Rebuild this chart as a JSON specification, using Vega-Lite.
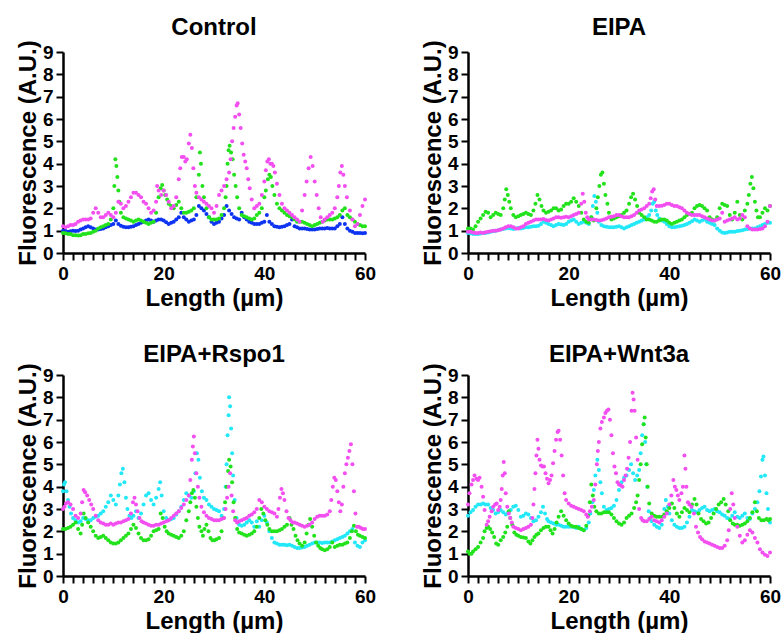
{
"$schema": "https://vega.github.io/schema/vega-lite/v6.json",
"background": "white",
"padding": {"left": 16, "top": 15, "right": 5, "bottom": 0},
"config": {
 "font": "Liberation Sans",
 "view": {"stroke": null},
 "axis": {"grid": false, "domainColor": "black", "domainWidth": 2.5, "tickColor": "black", "tickWidth": 2, "tickSize": 7, "labelFont": "Liberation Sans", "labelFontSize": 19, "labelFontWeight": "bold", "labelColor": "black", "labelPadding": 3, "labelFlush": false, "labelOverlap": false, "titleFont": "Liberation Sans", "titleFontSize": 24, "titleFontWeight": "bold", "titleColor": "black", "titlePadding": 2},
 "title": {"font": "Liberation Sans", "fontSize": 24, "fontWeight": "bold", "color": "black", "anchor": "middle", "frame": "group"},
 "point": {"filled": true, "size": 16, "opacity": 1}
},
"columns": 2,
"bounds": "flush",
"spacing": {"row": 122, "column": 103},
"resolve": {"scale": {"color": "independent"}},
"datasets": {
"control": [
{"s":"a","x":0,"y":1.0},{"s":"a","x":0.5,"y":0.98},{"s":"a","x":1,"y":0.95},{"s":"a","x":1.5,"y":0.97},{"s":"a","x":2,"y":1.0},{"s":"a","x":2.5,"y":0.98},{"s":"a","x":3,"y":1.0},{"s":"a","x":3.5,"y":1.05},{"s":"a","x":4,"y":1.1},{"s":"a","x":4.5,"y":1.15},{"s":"a","x":5,"y":1.2},{"s":"a","x":5.5,"y":1.15},{"s":"a","x":6,"y":1.1},{"s":"a","x":6.5,"y":1.05},{"s":"a","x":7,"y":1.05},{"s":"a","x":7.5,"y":1.08},{"s":"a","x":8,"y":1.1},{"s":"a","x":8.5,"y":1.15},{"s":"a","x":9,"y":1.2},{"s":"a","x":9.5,"y":1.25},{"s":"a","x":10,"y":1.3},{"s":"a","x":10.5,"y":1.45},{"s":"a","x":11,"y":1.3},{"s":"a","x":11.5,"y":1.22},{"s":"a","x":12,"y":1.18},{"s":"a","x":12.5,"y":1.15},{"s":"a","x":13,"y":1.15},{"s":"a","x":13.5,"y":1.18},{"s":"a","x":14,"y":1.2},{"s":"a","x":14.5,"y":1.25},{"s":"a","x":15,"y":1.3},{"s":"a","x":15.5,"y":1.35},{"s":"a","x":16,"y":1.4},{"s":"a","x":16.5,"y":1.45},{"s":"a","x":17,"y":1.5},{"s":"a","x":17.5,"y":1.45},{"s":"a","x":18,"y":1.4},{"s":"a","x":18.5,"y":1.45},{"s":"a","x":19,"y":1.5},{"s":"a","x":19.5,"y":1.5},{"s":"a","x":20,"y":1.45},{"s":"a","x":20.5,"y":1.38},{"s":"a","x":21,"y":1.3},{"s":"a","x":21.5,"y":1.35},{"s":"a","x":22,"y":1.4},{"s":"a","x":22.5,"y":1.5},{"s":"a","x":23,"y":1.6},{"s":"a","x":23.5,"y":1.8},{"s":"a","x":24,"y":1.6},{"s":"a","x":24.5,"y":1.5},{"s":"a","x":25,"y":1.4},{"s":"a","x":25.5,"y":1.45},{"s":"a","x":26,"y":1.5},{"s":"a","x":26.5,"y":1.7},{"s":"a","x":27,"y":2.1},{"s":"a","x":27.5,"y":2.0},{"s":"a","x":28,"y":1.9},{"s":"a","x":28.5,"y":1.75},{"s":"a","x":29,"y":1.6},{"s":"a","x":29.5,"y":1.4},{"s":"a","x":30,"y":1.3},{"s":"a","x":30.5,"y":1.35},{"s":"a","x":31,"y":1.4},{"s":"a","x":31.5,"y":1.55},{"s":"a","x":32,"y":1.7},{"s":"a","x":32.5,"y":2.1},{"s":"a","x":33,"y":1.9},{"s":"a","x":33.5,"y":1.75},{"s":"a","x":34,"y":1.6},{"s":"a","x":34.5,"y":1.55},{"s":"a","x":35,"y":1.5},{"s":"a","x":35.5,"y":1.8},{"s":"a","x":36,"y":1.6},{"s":"a","x":36.5,"y":1.5},{"s":"a","x":37,"y":1.4},{"s":"a","x":37.5,"y":1.35},{"s":"a","x":38,"y":1.3},{"s":"a","x":38.5,"y":1.3},{"s":"a","x":39,"y":1.3},{"s":"a","x":39.5,"y":1.35},{"s":"a","x":40,"y":1.4},{"s":"a","x":40.5,"y":1.7},{"s":"a","x":41,"y":1.4},{"s":"a","x":41.5,"y":1.3},{"s":"a","x":42,"y":1.2},{"s":"a","x":42.5,"y":1.18},{"s":"a","x":43,"y":1.15},{"s":"a","x":43.5,"y":1.18},{"s":"a","x":44,"y":1.2},{"s":"a","x":44.5,"y":1.25},{"s":"a","x":45,"y":1.3},{"s":"a","x":45.5,"y":1.5},{"s":"a","x":46,"y":1.2},{"s":"a","x":46.5,"y":1.15},{"s":"a","x":47,"y":1.1},{"s":"a","x":47.5,"y":1.1},{"s":"a","x":48,"y":1.1},{"s":"a","x":48.5,"y":1.08},{"s":"a","x":49,"y":1.05},{"s":"a","x":49.5,"y":1.05},{"s":"a","x":50,"y":1.05},{"s":"a","x":50.5,"y":1.08},{"s":"a","x":51,"y":1.1},{"s":"a","x":51.5,"y":1.1},{"s":"a","x":52,"y":1.1},{"s":"a","x":52.5,"y":1.12},{"s":"a","x":53,"y":1.1},{"s":"a","x":53.5,"y":1.1},{"s":"a","x":54,"y":1.1},{"s":"a","x":54.5,"y":1.2},{"s":"a","x":55,"y":1.3},{"s":"a","x":55.5,"y":1.6},{"s":"a","x":56,"y":1.3},{"s":"a","x":56.5,"y":1.1},{"s":"a","x":57,"y":1.0},{"s":"a","x":57.5,"y":0.95},{"s":"a","x":58,"y":0.9},{"s":"a","x":58.5,"y":0.9},{"s":"a","x":59,"y":0.9},{"s":"a","x":59.5,"y":0.88},{"s":"a","x":60,"y":0.9},
{"s":"b","x":0,"y":0.9},{"s":"b","x":0.5,"y":0.88},{"s":"b","x":1,"y":0.85},{"s":"b","x":1.5,"y":0.85},{"s":"b","x":2,"y":0.8},{"s":"b","x":2.5,"y":0.8},{"s":"b","x":3,"y":0.78},{"s":"b","x":3.5,"y":0.8},{"s":"b","x":4,"y":0.85},{"s":"b","x":4.5,"y":0.85},{"s":"b","x":5,"y":0.88},{"s":"b","x":5.5,"y":0.9},{"s":"b","x":6,"y":0.95},{"s":"b","x":6.5,"y":1.0},{"s":"b","x":7,"y":1.1},{"s":"b","x":7.5,"y":1.15},{"s":"b","x":8,"y":1.2},{"s":"b","x":8.5,"y":1.25},{"s":"b","x":9,"y":1.3},{"s":"b","x":9.5,"y":1.5},{"s":"b","x":10,"y":2.0},{"s":"b","x":10.2,"y":3.0},{"s":"b","x":10.4,"y":4.2},{"s":"b","x":10.6,"y":3.9},{"s":"b","x":10.8,"y":3.4},{"s":"b","x":11,"y":2.8},{"s":"b","x":11.2,"y":2.3},{"s":"b","x":11.5,"y":1.8},{"s":"b","x":12,"y":1.6},{"s":"b","x":12.5,"y":1.55},{"s":"b","x":13,"y":1.5},{"s":"b","x":13.5,"y":1.45},{"s":"b","x":14,"y":1.4},{"s":"b","x":14.5,"y":1.45},{"s":"b","x":15,"y":1.5},{"s":"b","x":15.5,"y":1.45},{"s":"b","x":16,"y":1.4},{"s":"b","x":16.5,"y":1.35},{"s":"b","x":17,"y":1.3},{"s":"b","x":17.5,"y":1.35},{"s":"b","x":18,"y":1.4},{"s":"b","x":18.5,"y":1.8},{"s":"b","x":19,"y":2.5},{"s":"b","x":19.4,"y":2.9},{"s":"b","x":19.7,"y":3.05},{"s":"b","x":20,"y":2.8},{"s":"b","x":20.3,"y":2.6},{"s":"b","x":20.7,"y":2.4},{"s":"b","x":21,"y":2.2},{"s":"b","x":21.5,"y":2.1},{"s":"b","x":22,"y":2.0},{"s":"b","x":22.5,"y":2.15},{"s":"b","x":23,"y":2.3},{"s":"b","x":23.5,"y":2.0},{"s":"b","x":24,"y":1.8},{"s":"b","x":24.5,"y":1.8},{"s":"b","x":25,"y":1.85},{"s":"b","x":25.5,"y":1.9},{"s":"b","x":26,"y":2.0},{"s":"b","x":26.5,"y":2.5},{"s":"b","x":27,"y":3.5},{"s":"b","x":27.2,"y":4.5},{"s":"b","x":27.4,"y":4.0},{"s":"b","x":27.7,"y":3.0},{"s":"b","x":28,"y":2.5},{"s":"b","x":28.5,"y":2.0},{"s":"b","x":29,"y":1.6},{"s":"b","x":29.5,"y":1.5},{"s":"b","x":30,"y":1.5},{"s":"b","x":30.5,"y":1.5},{"s":"b","x":31,"y":1.55},{"s":"b","x":31.5,"y":1.7},{"s":"b","x":32,"y":2.0},{"s":"b","x":32.3,"y":2.5},{"s":"b","x":32.5,"y":3.0},{"s":"b","x":32.7,"y":4.0},{"s":"b","x":32.9,"y":4.6},{"s":"b","x":33.1,"y":4.8},{"s":"b","x":33.4,"y":4.5},{"s":"b","x":33.7,"y":4.2},{"s":"b","x":34,"y":3.5},{"s":"b","x":34.3,"y":3.0},{"s":"b","x":34.6,"y":2.5},{"s":"b","x":35,"y":2.0},{"s":"b","x":35.5,"y":1.7},{"s":"b","x":36,"y":1.65},{"s":"b","x":36.5,"y":1.6},{"s":"b","x":37,"y":1.55},{"s":"b","x":37.5,"y":1.5},{"s":"b","x":38,"y":1.55},{"s":"b","x":38.5,"y":1.7},{"s":"b","x":39,"y":1.8},{"s":"b","x":39.5,"y":2.0},{"s":"b","x":40,"y":2.5},{"s":"b","x":40.3,"y":2.8},{"s":"b","x":40.7,"y":3.3},{"s":"b","x":41,"y":3.5},{"s":"b","x":41.3,"y":3.4},{"s":"b","x":41.6,"y":3.0},{"s":"b","x":42,"y":2.6},{"s":"b","x":42.5,"y":2.2},{"s":"b","x":43,"y":2.0},{"s":"b","x":43.5,"y":1.9},{"s":"b","x":44,"y":1.8},{"s":"b","x":44.5,"y":1.7},{"s":"b","x":45,"y":1.65},{"s":"b","x":45.5,"y":1.6},{"s":"b","x":46,"y":1.5},{"s":"b","x":46.5,"y":1.4},{"s":"b","x":47,"y":1.4},{"s":"b","x":47.5,"y":1.4},{"s":"b","x":48,"y":1.35},{"s":"b","x":48.5,"y":1.3},{"s":"b","x":49,"y":1.25},{"s":"b","x":49.5,"y":1.2},{"s":"b","x":50,"y":1.25},{"s":"b","x":50.5,"y":1.3},{"s":"b","x":51,"y":1.35},{"s":"b","x":51.5,"y":1.4},{"s":"b","x":52,"y":1.45},{"s":"b","x":52.5,"y":1.5},{"s":"b","x":53,"y":1.5},{"s":"b","x":53.5,"y":1.5},{"s":"b","x":54,"y":1.55},{"s":"b","x":54.5,"y":1.6},{"s":"b","x":55,"y":1.7},{"s":"b","x":55.5,"y":1.9},{"s":"b","x":56,"y":2.0},{"s":"b","x":56.5,"y":1.7},{"s":"b","x":57,"y":1.6},{"s":"b","x":57.5,"y":1.5},{"s":"b","x":58,"y":1.4},{"s":"b","x":58.5,"y":1.3},{"s":"b","x":59,"y":1.25},{"s":"b","x":59.5,"y":1.2},{"s":"b","x":60,"y":1.2},
{"s":"c","x":0,"y":1.2},{"s":"c","x":0.5,"y":1.15},{"s":"c","x":1,"y":1.2},{"s":"c","x":1.5,"y":1.25},{"s":"c","x":2,"y":1.25},{"s":"c","x":2.5,"y":1.3},{"s":"c","x":3,"y":1.4},{"s":"c","x":3.5,"y":1.45},{"s":"c","x":4,"y":1.5},{"s":"c","x":4.5,"y":1.5},{"s":"c","x":5,"y":1.5},{"s":"c","x":5.5,"y":1.55},{"s":"c","x":6,"y":1.8},{"s":"c","x":6.5,"y":2.0},{"s":"c","x":7,"y":1.8},{"s":"c","x":7.5,"y":1.6},{"s":"c","x":8,"y":1.6},{"s":"c","x":8.5,"y":1.7},{"s":"c","x":9,"y":1.8},{"s":"c","x":9.5,"y":1.7},{"s":"c","x":10,"y":1.6},{"s":"c","x":10.5,"y":1.8},{"s":"c","x":11,"y":2.3},{"s":"c","x":11.5,"y":2.2},{"s":"c","x":12,"y":2.0},{"s":"c","x":12.5,"y":2.1},{"s":"c","x":13,"y":2.3},{"s":"c","x":13.5,"y":2.5},{"s":"c","x":14,"y":2.7},{"s":"c","x":14.5,"y":2.7},{"s":"c","x":15,"y":2.6},{"s":"c","x":15.5,"y":2.5},{"s":"c","x":16,"y":2.3},{"s":"c","x":16.5,"y":2.2},{"s":"c","x":17,"y":2.0},{"s":"c","x":17.5,"y":1.8},{"s":"c","x":18,"y":1.9},{"s":"c","x":18.5,"y":2.3},{"s":"c","x":18.7,"y":3.0},{"s":"c","x":19,"y":2.8},{"s":"c","x":19.5,"y":2.6},{"s":"c","x":20,"y":2.8},{"s":"c","x":20.5,"y":2.6},{"s":"c","x":21,"y":2.3},{"s":"c","x":21.5,"y":2.0},{"s":"c","x":22,"y":2.1},{"s":"c","x":22.5,"y":2.5},{"s":"c","x":23,"y":3.3},{"s":"c","x":23.3,"y":3.8},{"s":"c","x":23.6,"y":4.3},{"s":"c","x":24,"y":4.3},{"s":"c","x":24.3,"y":4.1},{"s":"c","x":24.6,"y":4.2},{"s":"c","x":25,"y":4.9},{"s":"c","x":25.3,"y":5.3},{"s":"c","x":25.6,"y":4.7},{"s":"c","x":25.9,"y":3.8},{"s":"c","x":26.2,"y":3.0},{"s":"c","x":26.5,"y":2.7},{"s":"c","x":27,"y":2.5},{"s":"c","x":27.5,"y":2.4},{"s":"c","x":28,"y":2.3},{"s":"c","x":28.5,"y":2.2},{"s":"c","x":29,"y":2.1},{"s":"c","x":29.5,"y":2.0},{"s":"c","x":30,"y":1.8},{"s":"c","x":30.5,"y":2.1},{"s":"c","x":31,"y":2.6},{"s":"c","x":31.5,"y":2.8},{"s":"c","x":32,"y":3.0},{"s":"c","x":32.5,"y":3.3},{"s":"c","x":33,"y":3.6},{"s":"c","x":33.3,"y":4.2},{"s":"c","x":33.6,"y":5.0},{"s":"c","x":33.9,"y":5.6},{"s":"c","x":34.2,"y":6.1},{"s":"c","x":34.5,"y":6.6},{"s":"c","x":34.7,"y":6.7},{"s":"c","x":35,"y":6.2},{"s":"c","x":35.3,"y":5.6},{"s":"c","x":35.6,"y":4.9},{"s":"c","x":35.9,"y":4.4},{"s":"c","x":36.2,"y":4.1},{"s":"c","x":36.5,"y":3.8},{"s":"c","x":36.8,"y":3.3},{"s":"c","x":37.1,"y":2.9},{"s":"c","x":37.5,"y":2.4},{"s":"c","x":38,"y":2.0},{"s":"c","x":38.5,"y":2.1},{"s":"c","x":39,"y":2.2},{"s":"c","x":39.5,"y":2.6},{"s":"c","x":40,"y":3.2},{"s":"c","x":40.3,"y":3.7},{"s":"c","x":40.6,"y":4.1},{"s":"c","x":40.9,"y":4.2},{"s":"c","x":41.2,"y":4.0},{"s":"c","x":41.5,"y":4.0},{"s":"c","x":41.8,"y":3.9},{"s":"c","x":42.1,"y":3.6},{"s":"c","x":42.5,"y":3.1},{"s":"c","x":43,"y":2.6},{"s":"c","x":43.5,"y":2.2},{"s":"c","x":44,"y":2.0},{"s":"c","x":44.5,"y":1.9},{"s":"c","x":45,"y":1.8},{"s":"c","x":45.5,"y":1.7},{"s":"c","x":46,"y":1.6},{"s":"c","x":46.5,"y":1.5},{"s":"c","x":47,"y":1.4},{"s":"c","x":47.5,"y":1.9},{"s":"c","x":48,"y":2.6},{"s":"c","x":48.4,"y":3.2},{"s":"c","x":48.8,"y":3.8},{"s":"c","x":49.2,"y":4.3},{"s":"c","x":49.6,"y":3.9},{"s":"c","x":50,"y":3.2},{"s":"c","x":50.4,"y":2.6},{"s":"c","x":50.8,"y":2.0},{"s":"c","x":51.2,"y":1.6},{"s":"c","x":51.6,"y":1.4},{"s":"c","x":52,"y":1.5},{"s":"c","x":52.5,"y":1.6},{"s":"c","x":53,"y":1.7},{"s":"c","x":53.5,"y":1.8},{"s":"c","x":54,"y":2.0},{"s":"c","x":54.5,"y":2.5},{"s":"c","x":54.8,"y":3.0},{"s":"c","x":55.1,"y":3.6},{"s":"c","x":55.4,"y":3.9},{"s":"c","x":55.7,"y":3.5},{"s":"c","x":56,"y":3.0},{"s":"c","x":56.4,"y":2.5},{"s":"c","x":57,"y":1.9},{"s":"c","x":57.5,"y":1.5},{"s":"c","x":58,"y":1.2},{"s":"c","x":58.5,"y":1.3},{"s":"c","x":59,"y":1.7},{"s":"c","x":59.5,"y":2.1},{"s":"c","x":60,"y":2.4}
],
"eipa": [
{"s":"a","x":0,"y":0.9},{"s":"a","x":0.5,"y":0.88},{"s":"a","x":1,"y":0.85},{"s":"a","x":1.5,"y":0.85},{"s":"a","x":2,"y":0.85},{"s":"a","x":2.5,"y":0.87},{"s":"a","x":3,"y":0.9},{"s":"a","x":3.5,"y":0.9},{"s":"a","x":4,"y":0.92},{"s":"a","x":4.5,"y":0.95},{"s":"a","x":5,"y":0.97},{"s":"a","x":5.5,"y":1.0},{"s":"a","x":6,"y":1.02},{"s":"a","x":6.5,"y":1.05},{"s":"a","x":7,"y":1.08},{"s":"a","x":7.5,"y":1.1},{"s":"a","x":8,"y":1.12},{"s":"a","x":8.5,"y":1.1},{"s":"a","x":9,"y":1.08},{"s":"a","x":9.5,"y":1.1},{"s":"a","x":10,"y":1.12},{"s":"a","x":10.5,"y":1.1},{"s":"a","x":11,"y":1.12},{"s":"a","x":11.5,"y":1.15},{"s":"a","x":12,"y":1.15},{"s":"a","x":12.5,"y":1.18},{"s":"a","x":13,"y":1.2},{"s":"a","x":13.5,"y":1.2},{"s":"a","x":14,"y":1.22},{"s":"a","x":14.5,"y":1.3},{"s":"a","x":15,"y":1.4},{"s":"a","x":15.5,"y":1.35},{"s":"a","x":16,"y":1.3},{"s":"a","x":16.5,"y":1.25},{"s":"a","x":17,"y":1.2},{"s":"a","x":17.5,"y":1.25},{"s":"a","x":18,"y":1.3},{"s":"a","x":18.5,"y":1.28},{"s":"a","x":19,"y":1.25},{"s":"a","x":19.5,"y":1.3},{"s":"a","x":20,"y":1.4},{"s":"a","x":20.5,"y":1.45},{"s":"a","x":21,"y":1.5},{"s":"a","x":21.5,"y":1.4},{"s":"a","x":22,"y":1.3},{"s":"a","x":22.5,"y":1.35},{"s":"a","x":23,"y":1.4},{"s":"a","x":23.5,"y":1.35},{"s":"a","x":24,"y":1.3},{"s":"a","x":24.5,"y":1.6},{"s":"a","x":24.8,"y":2.1},{"s":"a","x":25.1,"y":2.55},{"s":"a","x":25.4,"y":2.3},{"s":"a","x":25.7,"y":1.8},{"s":"a","x":26,"y":1.4},{"s":"a","x":26.5,"y":1.25},{"s":"a","x":27,"y":1.2},{"s":"a","x":27.5,"y":1.18},{"s":"a","x":28,"y":1.15},{"s":"a","x":28.5,"y":1.15},{"s":"a","x":29,"y":1.15},{"s":"a","x":29.5,"y":1.18},{"s":"a","x":30,"y":1.2},{"s":"a","x":30.5,"y":1.15},{"s":"a","x":31,"y":1.1},{"s":"a","x":31.5,"y":1.15},{"s":"a","x":32,"y":1.2},{"s":"a","x":32.5,"y":1.25},{"s":"a","x":33,"y":1.3},{"s":"a","x":33.5,"y":1.35},{"s":"a","x":34,"y":1.4},{"s":"a","x":34.5,"y":1.45},{"s":"a","x":35,"y":1.5},{"s":"a","x":35.5,"y":1.6},{"s":"a","x":36,"y":1.7},{"s":"a","x":36.4,"y":1.9},{"s":"a","x":36.7,"y":2.2},{"s":"a","x":37,"y":2.3},{"s":"a","x":37.3,"y":1.9},{"s":"a","x":37.6,"y":1.7},{"s":"a","x":38,"y":1.55},{"s":"a","x":38.5,"y":1.45},{"s":"a","x":39,"y":1.4},{"s":"a","x":39.5,"y":1.3},{"s":"a","x":40,"y":1.2},{"s":"a","x":40.5,"y":1.15},{"s":"a","x":41,"y":1.15},{"s":"a","x":41.5,"y":1.18},{"s":"a","x":42,"y":1.2},{"s":"a","x":42.5,"y":1.22},{"s":"a","x":43,"y":1.25},{"s":"a","x":43.5,"y":1.3},{"s":"a","x":44,"y":1.35},{"s":"a","x":44.5,"y":1.42},{"s":"a","x":45,"y":1.5},{"s":"a","x":45.5,"y":1.45},{"s":"a","x":46,"y":1.4},{"s":"a","x":46.5,"y":1.45},{"s":"a","x":47,"y":1.5},{"s":"a","x":47.5,"y":1.4},{"s":"a","x":48,"y":1.35},{"s":"a","x":48.5,"y":1.3},{"s":"a","x":49,"y":1.25},{"s":"a","x":49.5,"y":1.1},{"s":"a","x":50,"y":1.0},{"s":"a","x":50.5,"y":0.92},{"s":"a","x":51,"y":0.9},{"s":"a","x":51.5,"y":0.92},{"s":"a","x":52,"y":0.95},{"s":"a","x":52.5,"y":0.95},{"s":"a","x":53,"y":0.95},{"s":"a","x":53.5,"y":0.98},{"s":"a","x":54,"y":1.0},{"s":"a","x":54.5,"y":1.02},{"s":"a","x":55,"y":1.05},{"s":"a","x":55.5,"y":1.08},{"s":"a","x":56,"y":1.1},{"s":"a","x":56.5,"y":1.1},{"s":"a","x":57,"y":1.1},{"s":"a","x":57.5,"y":1.15},{"s":"a","x":58,"y":1.2},{"s":"a","x":58.5,"y":1.25},{"s":"a","x":59,"y":1.3},{"s":"a","x":59.5,"y":1.35},{"s":"a","x":60,"y":1.35},
{"s":"b","x":0,"y":1.1},{"s":"b","x":0.5,"y":1.1},{"s":"b","x":1,"y":1.05},{"s":"b","x":1.5,"y":1.2},{"s":"b","x":2,"y":1.4},{"s":"b","x":2.5,"y":1.55},{"s":"b","x":3,"y":1.7},{"s":"b","x":3.5,"y":1.85},{"s":"b","x":4,"y":1.8},{"s":"b","x":4.5,"y":1.6},{"s":"b","x":5,"y":1.7},{"s":"b","x":5.5,"y":1.8},{"s":"b","x":6,"y":1.75},{"s":"b","x":6.5,"y":1.7},{"s":"b","x":7,"y":2.0},{"s":"b","x":7.3,"y":2.4},{"s":"b","x":7.6,"y":2.85},{"s":"b","x":7.9,"y":2.6},{"s":"b","x":8.2,"y":2.3},{"s":"b","x":8.5,"y":2.0},{"s":"b","x":9,"y":1.7},{"s":"b","x":9.5,"y":1.6},{"s":"b","x":10,"y":1.65},{"s":"b","x":10.5,"y":1.7},{"s":"b","x":11,"y":1.75},{"s":"b","x":11.5,"y":1.8},{"s":"b","x":12,"y":1.75},{"s":"b","x":12.5,"y":1.7},{"s":"b","x":13,"y":1.9},{"s":"b","x":13.4,"y":2.2},{"s":"b","x":13.8,"y":2.6},{"s":"b","x":14.2,"y":2.4},{"s":"b","x":14.6,"y":2.1},{"s":"b","x":15,"y":1.9},{"s":"b","x":15.5,"y":1.8},{"s":"b","x":16,"y":1.85},{"s":"b","x":16.5,"y":1.9},{"s":"b","x":17,"y":2.0},{"s":"b","x":17.5,"y":2.0},{"s":"b","x":18,"y":1.9},{"s":"b","x":18.5,"y":1.95},{"s":"b","x":19,"y":2.1},{"s":"b","x":19.5,"y":2.2},{"s":"b","x":20,"y":2.2},{"s":"b","x":20.5,"y":2.3},{"s":"b","x":21,"y":2.45},{"s":"b","x":21.5,"y":2.3},{"s":"b","x":22,"y":2.1},{"s":"b","x":22.5,"y":1.8},{"s":"b","x":23,"y":1.5},{"s":"b","x":23.5,"y":1.4},{"s":"b","x":24,"y":1.35},{"s":"b","x":24.5,"y":1.6},{"s":"b","x":25,"y":1.45},{"s":"b","x":25.5,"y":2.0},{"s":"b","x":25.8,"y":2.5},{"s":"b","x":26.1,"y":3.0},{"s":"b","x":26.4,"y":3.5},{"s":"b","x":26.7,"y":3.6},{"s":"b","x":27,"y":3.1},{"s":"b","x":27.3,"y":2.6},{"s":"b","x":27.7,"y":2.2},{"s":"b","x":28,"y":1.8},{"s":"b","x":28.5,"y":1.5},{"s":"b","x":29,"y":1.55},{"s":"b","x":29.5,"y":1.6},{"s":"b","x":30,"y":1.65},{"s":"b","x":30.5,"y":1.7},{"s":"b","x":31,"y":1.8},{"s":"b","x":31.5,"y":1.9},{"s":"b","x":32,"y":2.2},{"s":"b","x":32.4,"y":2.5},{"s":"b","x":32.8,"y":2.65},{"s":"b","x":33.2,"y":2.4},{"s":"b","x":33.6,"y":2.1},{"s":"b","x":34,"y":1.8},{"s":"b","x":34.5,"y":1.7},{"s":"b","x":35,"y":1.6},{"s":"b","x":35.5,"y":1.5},{"s":"b","x":36,"y":1.5},{"s":"b","x":36.5,"y":1.45},{"s":"b","x":37,"y":1.4},{"s":"b","x":37.5,"y":1.4},{"s":"b","x":38,"y":1.45},{"s":"b","x":38.5,"y":1.5},{"s":"b","x":39,"y":1.5},{"s":"b","x":39.5,"y":1.45},{"s":"b","x":40,"y":1.35},{"s":"b","x":40.5,"y":1.3},{"s":"b","x":41,"y":1.35},{"s":"b","x":41.5,"y":1.4},{"s":"b","x":42,"y":1.45},{"s":"b","x":42.5,"y":1.5},{"s":"b","x":43,"y":1.6},{"s":"b","x":43.5,"y":1.7},{"s":"b","x":44,"y":1.75},{"s":"b","x":44.5,"y":1.8},{"s":"b","x":45,"y":2.0},{"s":"b","x":45.5,"y":2.1},{"s":"b","x":46,"y":2.15},{"s":"b","x":46.5,"y":2.1},{"s":"b","x":47,"y":2.0},{"s":"b","x":47.5,"y":1.9},{"s":"b","x":48,"y":1.6},{"s":"b","x":48.5,"y":1.5},{"s":"b","x":49,"y":1.45},{"s":"b","x":49.5,"y":1.6},{"s":"b","x":50,"y":2.0},{"s":"b","x":50.5,"y":2.2},{"s":"b","x":51,"y":2.15},{"s":"b","x":51.5,"y":2.1},{"s":"b","x":52,"y":1.7},{"s":"b","x":52.5,"y":1.5},{"s":"b","x":53,"y":1.8},{"s":"b","x":53.5,"y":2.3},{"s":"b","x":54,"y":1.7},{"s":"b","x":54.5,"y":1.5},{"s":"b","x":55,"y":1.9},{"s":"b","x":55.5,"y":2.2},{"s":"b","x":55.8,"y":2.6},{"s":"b","x":56.1,"y":3.1},{"s":"b","x":56.4,"y":3.4},{"s":"b","x":56.7,"y":2.9},{"s":"b","x":57,"y":2.3},{"s":"b","x":57.3,"y":1.9},{"s":"b","x":57.6,"y":1.6},{"s":"b","x":58,"y":1.6},{"s":"b","x":58.5,"y":1.8},{"s":"b","x":59,"y":2.0},{"s":"b","x":59.5,"y":1.9},{"s":"b","x":60,"y":2.1},
{"s":"c","x":0,"y":0.95},{"s":"c","x":0.5,"y":0.95},{"s":"c","x":1,"y":0.92},{"s":"c","x":1.5,"y":0.9},{"s":"c","x":2,"y":0.9},{"s":"c","x":2.5,"y":0.92},{"s":"c","x":3,"y":0.9},{"s":"c","x":3.5,"y":0.93},{"s":"c","x":4,"y":0.95},{"s":"c","x":4.5,"y":0.97},{"s":"c","x":5,"y":1.0},{"s":"c","x":5.5,"y":1.0},{"s":"c","x":6,"y":1.02},{"s":"c","x":6.5,"y":1.05},{"s":"c","x":7,"y":1.1},{"s":"c","x":7.5,"y":1.15},{"s":"c","x":8,"y":1.2},{"s":"c","x":8.5,"y":1.2},{"s":"c","x":9,"y":1.15},{"s":"c","x":9.5,"y":1.1},{"s":"c","x":10,"y":1.1},{"s":"c","x":10.5,"y":1.15},{"s":"c","x":11,"y":1.2},{"s":"c","x":11.5,"y":1.3},{"s":"c","x":12,"y":1.35},{"s":"c","x":12.5,"y":1.4},{"s":"c","x":13,"y":1.45},{"s":"c","x":13.5,"y":1.5},{"s":"c","x":14,"y":1.5},{"s":"c","x":14.5,"y":1.5},{"s":"c","x":15,"y":1.52},{"s":"c","x":15.5,"y":1.48},{"s":"c","x":16,"y":1.45},{"s":"c","x":16.5,"y":1.5},{"s":"c","x":17,"y":1.55},{"s":"c","x":17.5,"y":1.6},{"s":"c","x":18,"y":1.6},{"s":"c","x":18.5,"y":1.58},{"s":"c","x":19,"y":1.6},{"s":"c","x":19.5,"y":1.62},{"s":"c","x":20,"y":1.6},{"s":"c","x":20.5,"y":1.65},{"s":"c","x":21,"y":1.7},{"s":"c","x":21.5,"y":1.75},{"s":"c","x":22,"y":1.8},{"s":"c","x":22.5,"y":2.2},{"s":"c","x":22.8,"y":2.65},{"s":"c","x":23.1,"y":2.3},{"s":"c","x":23.4,"y":1.8},{"s":"c","x":23.7,"y":1.6},{"s":"c","x":24,"y":1.5},{"s":"c","x":24.5,"y":1.5},{"s":"c","x":25,"y":1.5},{"s":"c","x":25.5,"y":1.48},{"s":"c","x":26,"y":1.45},{"s":"c","x":26.5,"y":1.47},{"s":"c","x":27,"y":1.5},{"s":"c","x":27.5,"y":1.55},{"s":"c","x":28,"y":1.6},{"s":"c","x":28.5,"y":1.62},{"s":"c","x":29,"y":1.65},{"s":"c","x":29.5,"y":1.7},{"s":"c","x":30,"y":1.7},{"s":"c","x":30.5,"y":1.65},{"s":"c","x":31,"y":1.6},{"s":"c","x":31.5,"y":1.6},{"s":"c","x":32,"y":1.6},{"s":"c","x":32.5,"y":1.65},{"s":"c","x":33,"y":1.7},{"s":"c","x":33.5,"y":1.8},{"s":"c","x":34,"y":1.9},{"s":"c","x":34.5,"y":1.95},{"s":"c","x":35,"y":2.0},{"s":"c","x":35.5,"y":2.1},{"s":"c","x":36,"y":2.2},{"s":"c","x":36.3,"y":2.45},{"s":"c","x":36.6,"y":2.75},{"s":"c","x":36.9,"y":2.85},{"s":"c","x":37.2,"y":2.4},{"s":"c","x":37.5,"y":2.1},{"s":"c","x":38,"y":2.1},{"s":"c","x":38.5,"y":2.12},{"s":"c","x":39,"y":2.15},{"s":"c","x":39.5,"y":2.2},{"s":"c","x":40,"y":2.2},{"s":"c","x":40.5,"y":2.15},{"s":"c","x":41,"y":2.1},{"s":"c","x":41.5,"y":2.1},{"s":"c","x":42,"y":2.05},{"s":"c","x":42.5,"y":2.0},{"s":"c","x":43,"y":1.9},{"s":"c","x":43.5,"y":1.8},{"s":"c","x":44,"y":1.75},{"s":"c","x":44.5,"y":1.7},{"s":"c","x":45,"y":1.7},{"s":"c","x":45.5,"y":1.7},{"s":"c","x":46,"y":1.7},{"s":"c","x":46.5,"y":1.65},{"s":"c","x":47,"y":1.6},{"s":"c","x":47.5,"y":1.55},{"s":"c","x":48,"y":1.5},{"s":"c","x":48.5,"y":1.45},{"s":"c","x":49,"y":1.45},{"s":"c","x":49.5,"y":1.5},{"s":"c","x":50,"y":1.55},{"s":"c","x":50.5,"y":1.8},{"s":"c","x":51,"y":1.4},{"s":"c","x":51.5,"y":1.45},{"s":"c","x":52,"y":1.5},{"s":"c","x":52.5,"y":1.55},{"s":"c","x":53,"y":1.6},{"s":"c","x":53.5,"y":1.5},{"s":"c","x":54,"y":1.55},{"s":"c","x":54.5,"y":1.7},{"s":"c","x":55,"y":1.6},{"s":"c","x":55.5,"y":1.2},{"s":"c","x":56,"y":1.1},{"s":"c","x":56.5,"y":1.05},{"s":"c","x":57,"y":1.05},{"s":"c","x":57.5,"y":1.05},{"s":"c","x":58,"y":1.08},{"s":"c","x":58.5,"y":1.1},{"s":"c","x":59,"y":1.2},{"s":"c","x":59.5,"y":1.4},{"s":"c","x":60,"y":2.1}
],
"rspo": [
{"s":"a","x":0,"y":3.8},{"s":"a","x":0.2,"y":4.1},{"s":"a","x":0.4,"y":4.2},{"s":"a","x":0.7,"y":3.8},{"s":"a","x":1,"y":3.4},{"s":"a","x":1.3,"y":3.1},{"s":"a","x":1.6,"y":2.8},{"s":"a","x":2,"y":2.6},{"s":"a","x":2.5,"y":2.5},{"s":"a","x":3,"y":2.4},{"s":"a","x":3.5,"y":2.45},{"s":"a","x":4,"y":2.6},{"s":"a","x":4.5,"y":2.55},{"s":"a","x":5,"y":2.5},{"s":"a","x":5.5,"y":2.5},{"s":"a","x":6,"y":2.6},{"s":"a","x":6.5,"y":2.65},{"s":"a","x":7,"y":2.7},{"s":"a","x":7.5,"y":2.8},{"s":"a","x":8,"y":2.9},{"s":"a","x":8.5,"y":3.1},{"s":"a","x":9,"y":3.3},{"s":"a","x":9.5,"y":3.6},{"s":"a","x":10,"y":3.4},{"s":"a","x":10.5,"y":3.2},{"s":"a","x":11,"y":3.6},{"s":"a","x":11.3,"y":4.1},{"s":"a","x":11.6,"y":4.6},{"s":"a","x":11.9,"y":4.8},{"s":"a","x":12.2,"y":4.2},{"s":"a","x":12.5,"y":3.5},{"s":"a","x":12.8,"y":3.0},{"s":"a","x":13.2,"y":2.7},{"s":"a","x":13.6,"y":2.6},{"s":"a","x":14,"y":2.7},{"s":"a","x":14.5,"y":2.9},{"s":"a","x":15,"y":2.6},{"s":"a","x":15.5,"y":2.8},{"s":"a","x":16,"y":3.2},{"s":"a","x":16.5,"y":3.6},{"s":"a","x":17,"y":3.7},{"s":"a","x":17.5,"y":3.4},{"s":"a","x":18,"y":3.2},{"s":"a","x":18.5,"y":3.5},{"s":"a","x":19,"y":3.9},{"s":"a","x":19.3,"y":4.2},{"s":"a","x":19.6,"y":3.6},{"s":"a","x":20,"y":2.9},{"s":"a","x":20.5,"y":2.6},{"s":"a","x":21,"y":2.5},{"s":"a","x":21.5,"y":2.55},{"s":"a","x":22,"y":2.6},{"s":"a","x":22.5,"y":2.75},{"s":"a","x":23,"y":2.9},{"s":"a","x":23.5,"y":3.1},{"s":"a","x":24,"y":3.4},{"s":"a","x":24.5,"y":3.7},{"s":"a","x":25,"y":3.6},{"s":"a","x":25.5,"y":3.5},{"s":"a","x":26,"y":3.8},{"s":"a","x":26.3,"y":4.6},{"s":"a","x":26.6,"y":5.5},{"s":"a","x":26.9,"y":5.2},{"s":"a","x":27.2,"y":4.4},{"s":"a","x":27.6,"y":3.8},{"s":"a","x":28,"y":3.5},{"s":"a","x":28.5,"y":3.4},{"s":"a","x":29,"y":3.2},{"s":"a","x":29.5,"y":3.1},{"s":"a","x":30,"y":3.0},{"s":"a","x":30.5,"y":2.95},{"s":"a","x":31,"y":2.9},{"s":"a","x":31.5,"y":2.7},{"s":"a","x":32,"y":3.0},{"s":"a","x":32.3,"y":4.0},{"s":"a","x":32.5,"y":5.0},{"s":"a","x":32.7,"y":6.3},{"s":"a","x":32.9,"y":7.2},{"s":"a","x":33.0,"y":8.0},{"s":"a","x":33.2,"y":7.6},{"s":"a","x":33.4,"y":6.6},{"s":"a","x":33.6,"y":5.5},{"s":"a","x":33.8,"y":4.5},{"s":"a","x":34.1,"y":3.4},{"s":"a","x":34.5,"y":2.6},{"s":"a","x":35,"y":2.3},{"s":"a","x":35.5,"y":2.25},{"s":"a","x":36,"y":2.3},{"s":"a","x":36.5,"y":2.4},{"s":"a","x":37,"y":2.5},{"s":"a","x":37.5,"y":2.4},{"s":"a","x":38,"y":2.2},{"s":"a","x":38.5,"y":2.45},{"s":"a","x":39,"y":2.2},{"s":"a","x":39.5,"y":2.5},{"s":"a","x":40,"y":2.7},{"s":"a","x":40.5,"y":2.4},{"s":"a","x":41,"y":2.0},{"s":"a","x":41.5,"y":1.7},{"s":"a","x":42,"y":1.5},{"s":"a","x":42.5,"y":1.45},{"s":"a","x":43,"y":1.4},{"s":"a","x":43.5,"y":1.4},{"s":"a","x":44,"y":1.4},{"s":"a","x":44.5,"y":1.38},{"s":"a","x":45,"y":1.4},{"s":"a","x":45.5,"y":1.35},{"s":"a","x":46,"y":1.3},{"s":"a","x":46.5,"y":1.25},{"s":"a","x":47,"y":1.25},{"s":"a","x":47.5,"y":1.28},{"s":"a","x":48,"y":1.3},{"s":"a","x":48.5,"y":1.35},{"s":"a","x":49,"y":1.4},{"s":"a","x":49.5,"y":1.45},{"s":"a","x":50,"y":1.5},{"s":"a","x":50.5,"y":1.5},{"s":"a","x":51,"y":1.5},{"s":"a","x":51.5,"y":1.48},{"s":"a","x":52,"y":1.5},{"s":"a","x":52.5,"y":1.5},{"s":"a","x":53,"y":1.5},{"s":"a","x":53.5,"y":1.55},{"s":"a","x":54,"y":1.6},{"s":"a","x":54.5,"y":1.65},{"s":"a","x":55,"y":1.7},{"s":"a","x":55.5,"y":1.75},{"s":"a","x":56,"y":1.8},{"s":"a","x":56.5,"y":1.9},{"s":"a","x":57,"y":2.0},{"s":"a","x":57.5,"y":2.1},{"s":"a","x":58,"y":1.5},{"s":"a","x":58.5,"y":1.35},{"s":"a","x":59,"y":1.3},{"s":"a","x":59.5,"y":1.5},{"s":"a","x":60,"y":1.6},
{"s":"b","x":0,"y":2.1},{"s":"b","x":0.5,"y":2.1},{"s":"b","x":1,"y":2.15},{"s":"b","x":1.5,"y":2.2},{"s":"b","x":2,"y":2.3},{"s":"b","x":2.5,"y":2.4},{"s":"b","x":3,"y":2.1},{"s":"b","x":3.5,"y":1.9},{"s":"b","x":3.8,"y":2.3},{"s":"b","x":4.1,"y":2.8},{"s":"b","x":4.5,"y":2.6},{"s":"b","x":5,"y":2.4},{"s":"b","x":5.5,"y":2.2},{"s":"b","x":6,"y":2.0},{"s":"b","x":6.5,"y":1.8},{"s":"b","x":7,"y":1.7},{"s":"b","x":7.5,"y":1.75},{"s":"b","x":8,"y":1.8},{"s":"b","x":8.5,"y":1.7},{"s":"b","x":9,"y":1.6},{"s":"b","x":9.5,"y":1.5},{"s":"b","x":10,"y":1.45},{"s":"b","x":10.5,"y":1.45},{"s":"b","x":11,"y":1.5},{"s":"b","x":11.5,"y":1.6},{"s":"b","x":12,"y":1.7},{"s":"b","x":12.5,"y":1.8},{"s":"b","x":13,"y":1.9},{"s":"b","x":13.5,"y":2.1},{"s":"b","x":14,"y":2.3},{"s":"b","x":14.5,"y":2.15},{"s":"b","x":15,"y":1.9},{"s":"b","x":15.5,"y":1.7},{"s":"b","x":16,"y":1.6},{"s":"b","x":16.5,"y":1.6},{"s":"b","x":17,"y":1.65},{"s":"b","x":17.5,"y":1.8},{"s":"b","x":18,"y":2.0},{"s":"b","x":18.5,"y":2.05},{"s":"b","x":19,"y":2.1},{"s":"b","x":19.4,"y":2.8},{"s":"b","x":19.8,"y":2.6},{"s":"b","x":20.2,"y":2.2},{"s":"b","x":20.6,"y":2.0},{"s":"b","x":21,"y":1.9},{"s":"b","x":21.5,"y":1.85},{"s":"b","x":22,"y":1.8},{"s":"b","x":22.5,"y":1.75},{"s":"b","x":23,"y":1.7},{"s":"b","x":23.5,"y":1.8},{"s":"b","x":24,"y":2.0},{"s":"b","x":24.5,"y":2.5},{"s":"b","x":25,"y":2.9},{"s":"b","x":25.3,"y":3.3},{"s":"b","x":25.6,"y":3.7},{"s":"b","x":25.9,"y":3.85},{"s":"b","x":26.2,"y":3.5},{"s":"b","x":26.5,"y":3.1},{"s":"b","x":26.8,"y":2.6},{"s":"b","x":27.1,"y":2.2},{"s":"b","x":27.5,"y":2.0},{"s":"b","x":27.8,"y":1.8},{"s":"b","x":28.1,"y":2.1},{"s":"b","x":28.5,"y":2.3},{"s":"b","x":28.9,"y":2.0},{"s":"b","x":29.3,"y":1.7},{"s":"b","x":29.7,"y":1.6},{"s":"b","x":30.1,"y":1.6},{"s":"b","x":30.5,"y":1.65},{"s":"b","x":31,"y":1.7},{"s":"b","x":31.5,"y":2.0},{"s":"b","x":31.9,"y":2.6},{"s":"b","x":32.2,"y":3.3},{"s":"b","x":32.5,"y":4.0},{"s":"b","x":32.8,"y":4.7},{"s":"b","x":33.0,"y":5.2},{"s":"b","x":33.3,"y":4.9},{"s":"b","x":33.6,"y":4.2},{"s":"b","x":33.9,"y":3.3},{"s":"b","x":34.2,"y":2.6},{"s":"b","x":34.6,"y":2.1},{"s":"b","x":35,"y":1.95},{"s":"b","x":35.5,"y":1.9},{"s":"b","x":36,"y":1.85},{"s":"b","x":36.5,"y":1.8},{"s":"b","x":37,"y":1.85},{"s":"b","x":37.5,"y":1.9},{"s":"b","x":38,"y":2.0},{"s":"b","x":38.5,"y":2.2},{"s":"b","x":39,"y":2.6},{"s":"b","x":39.4,"y":3.0},{"s":"b","x":39.8,"y":2.8},{"s":"b","x":40.2,"y":2.5},{"s":"b","x":40.6,"y":2.3},{"s":"b","x":41,"y":2.1},{"s":"b","x":41.5,"y":2.0},{"s":"b","x":42,"y":2.0},{"s":"b","x":42.5,"y":2.0},{"s":"b","x":43,"y":2.05},{"s":"b","x":43.5,"y":2.1},{"s":"b","x":44,"y":2.2},{"s":"b","x":44.5,"y":2.3},{"s":"b","x":45,"y":2.6},{"s":"b","x":45.4,"y":2.3},{"s":"b","x":45.8,"y":2.1},{"s":"b","x":46.2,"y":1.8},{"s":"b","x":46.6,"y":1.6},{"s":"b","x":47,"y":1.45},{"s":"b","x":47.5,"y":1.35},{"s":"b","x":48,"y":1.5},{"s":"b","x":48.4,"y":1.9},{"s":"b","x":48.8,"y":2.3},{"s":"b","x":49.1,"y":2.55},{"s":"b","x":49.5,"y":2.2},{"s":"b","x":49.9,"y":1.8},{"s":"b","x":50.3,"y":1.5},{"s":"b","x":50.7,"y":1.35},{"s":"b","x":51.1,"y":1.25},{"s":"b","x":51.5,"y":1.2},{"s":"b","x":52,"y":1.15},{"s":"b","x":52.5,"y":1.2},{"s":"b","x":53,"y":1.3},{"s":"b","x":53.5,"y":1.5},{"s":"b","x":54,"y":1.3},{"s":"b","x":54.5,"y":1.35},{"s":"b","x":55,"y":1.4},{"s":"b","x":55.5,"y":1.4},{"s":"b","x":56,"y":1.45},{"s":"b","x":56.5,"y":1.5},{"s":"b","x":57,"y":1.7},{"s":"b","x":57.4,"y":2.0},{"s":"b","x":57.8,"y":2.25},{"s":"b","x":58.2,"y":2.0},{"s":"b","x":58.6,"y":1.85},{"s":"b","x":59,"y":1.8},{"s":"b","x":59.5,"y":1.75},{"s":"b","x":60,"y":1.7},
{"s":"c","x":0,"y":3.0},{"s":"c","x":0.3,"y":3.1},{"s":"c","x":0.6,"y":3.25},{"s":"c","x":1,"y":3.3},{"s":"c","x":1.5,"y":3.2},{"s":"c","x":2,"y":3.0},{"s":"c","x":2.5,"y":2.7},{"s":"c","x":3,"y":2.6},{"s":"c","x":3.5,"y":2.8},{"s":"c","x":3.8,"y":3.3},{"s":"c","x":4.1,"y":3.85},{"s":"c","x":4.4,"y":3.75},{"s":"c","x":4.8,"y":3.6},{"s":"c","x":5.2,"y":3.4},{"s":"c","x":5.6,"y":3.2},{"s":"c","x":6,"y":3.0},{"s":"c","x":6.5,"y":2.7},{"s":"c","x":7,"y":2.5},{"s":"c","x":7.5,"y":2.4},{"s":"c","x":8,"y":2.35},{"s":"c","x":8.5,"y":2.3},{"s":"c","x":9,"y":2.3},{"s":"c","x":9.5,"y":2.35},{"s":"c","x":10,"y":2.3},{"s":"c","x":10.5,"y":2.35},{"s":"c","x":11,"y":2.4},{"s":"c","x":11.5,"y":2.4},{"s":"c","x":12,"y":2.45},{"s":"c","x":12.5,"y":2.5},{"s":"c","x":13,"y":2.55},{"s":"c","x":13.5,"y":2.8},{"s":"c","x":13.9,"y":3.3},{"s":"c","x":14.2,"y":3.5},{"s":"c","x":14.5,"y":3.2},{"s":"c","x":14.8,"y":2.9},{"s":"c","x":15.2,"y":2.6},{"s":"c","x":15.6,"y":2.45},{"s":"c","x":16,"y":2.4},{"s":"c","x":16.5,"y":2.35},{"s":"c","x":17,"y":2.3},{"s":"c","x":17.5,"y":2.25},{"s":"c","x":18,"y":2.25},{"s":"c","x":18.5,"y":2.3},{"s":"c","x":19,"y":2.3},{"s":"c","x":19.5,"y":2.35},{"s":"c","x":20,"y":2.4},{"s":"c","x":20.5,"y":2.45},{"s":"c","x":21,"y":2.5},{"s":"c","x":21.5,"y":2.6},{"s":"c","x":22,"y":2.7},{"s":"c","x":22.5,"y":2.8},{"s":"c","x":23,"y":2.9},{"s":"c","x":23.5,"y":3.05},{"s":"c","x":24,"y":3.2},{"s":"c","x":24.5,"y":3.4},{"s":"c","x":25,"y":3.6},{"s":"c","x":25.3,"y":4.3},{"s":"c","x":25.6,"y":5.2},{"s":"c","x":25.8,"y":5.8},{"s":"c","x":26.0,"y":6.25},{"s":"c","x":26.2,"y":5.5},{"s":"c","x":26.5,"y":4.6},{"s":"c","x":26.8,"y":4.0},{"s":"c","x":27.1,"y":3.5},{"s":"c","x":27.5,"y":3.1},{"s":"c","x":28,"y":2.85},{"s":"c","x":28.5,"y":2.7},{"s":"c","x":29,"y":2.6},{"s":"c","x":29.5,"y":2.55},{"s":"c","x":30,"y":2.5},{"s":"c","x":30.5,"y":2.5},{"s":"c","x":31,"y":2.5},{"s":"c","x":31.5,"y":2.55},{"s":"c","x":32,"y":2.6},{"s":"c","x":32.3,"y":3.0},{"s":"c","x":32.6,"y":3.5},{"s":"c","x":32.9,"y":4.0},{"s":"c","x":33.2,"y":4.6},{"s":"c","x":33.5,"y":3.6},{"s":"c","x":33.8,"y":2.9},{"s":"c","x":34.2,"y":2.5},{"s":"c","x":34.6,"y":2.4},{"s":"c","x":35,"y":2.45},{"s":"c","x":35.5,"y":2.5},{"s":"c","x":36,"y":2.55},{"s":"c","x":36.5,"y":2.6},{"s":"c","x":37,"y":2.7},{"s":"c","x":37.5,"y":2.75},{"s":"c","x":38,"y":2.85},{"s":"c","x":38.5,"y":3.0},{"s":"c","x":39,"y":3.4},{"s":"c","x":39.5,"y":3.3},{"s":"c","x":40,"y":3.1},{"s":"c","x":40.5,"y":3.0},{"s":"c","x":41,"y":2.9},{"s":"c","x":41.5,"y":2.85},{"s":"c","x":42,"y":2.8},{"s":"c","x":42.5,"y":2.65},{"s":"c","x":42.8,"y":3.0},{"s":"c","x":43.1,"y":3.5},{"s":"c","x":43.4,"y":3.9},{"s":"c","x":43.7,"y":3.7},{"s":"c","x":44,"y":3.4},{"s":"c","x":44.4,"y":2.9},{"s":"c","x":44.8,"y":2.6},{"s":"c","x":45.2,"y":2.5},{"s":"c","x":45.6,"y":2.4},{"s":"c","x":46,"y":2.4},{"s":"c","x":46.5,"y":2.35},{"s":"c","x":47,"y":2.3},{"s":"c","x":47.5,"y":2.25},{"s":"c","x":48,"y":2.2},{"s":"c","x":48.5,"y":2.25},{"s":"c","x":49,"y":2.3},{"s":"c","x":49.5,"y":2.4},{"s":"c","x":50,"y":2.55},{"s":"c","x":50.5,"y":2.65},{"s":"c","x":51,"y":2.7},{"s":"c","x":51.5,"y":2.7},{"s":"c","x":52,"y":2.7},{"s":"c","x":52.5,"y":2.75},{"s":"c","x":53,"y":2.9},{"s":"c","x":53.3,"y":3.4},{"s":"c","x":53.6,"y":4.0},{"s":"c","x":53.9,"y":4.4},{"s":"c","x":54.2,"y":4.3},{"s":"c","x":54.5,"y":3.8},{"s":"c","x":54.8,"y":3.3},{"s":"c","x":55.1,"y":2.9},{"s":"c","x":55.4,"y":3.2},{"s":"c","x":55.7,"y":4.0},{"s":"c","x":56,"y":4.6},{"s":"c","x":56.3,"y":5.0},{"s":"c","x":56.6,"y":5.3},{"s":"c","x":56.9,"y":5.6},{"s":"c","x":57.2,"y":5.9},{"s":"c","x":57.5,"y":5.0},{"s":"c","x":57.8,"y":3.8},{"s":"c","x":58.1,"y":2.8},{"s":"c","x":58.4,"y":2.2},{"s":"c","x":58.8,"y":2.2},{"s":"c","x":59.2,"y":2.15},{"s":"c","x":59.6,"y":2.1},{"s":"c","x":60,"y":2.1}
],
"wnt": [
{"s":"a","x":0,"y":2.7},{"s":"a","x":0.5,"y":2.85},{"s":"a","x":1,"y":2.95},{"s":"a","x":1.5,"y":3.1},{"s":"a","x":2,"y":3.2},{"s":"a","x":2.5,"y":3.2},{"s":"a","x":3,"y":3.25},{"s":"a","x":3.5,"y":3.2},{"s":"a","x":4,"y":3.2},{"s":"a","x":4.5,"y":3.05},{"s":"a","x":5,"y":2.95},{"s":"a","x":5.5,"y":2.8},{"s":"a","x":6,"y":2.85},{"s":"a","x":6.5,"y":2.95},{"s":"a","x":7,"y":2.85},{"s":"a","x":7.5,"y":2.75},{"s":"a","x":8,"y":2.85},{"s":"a","x":8.5,"y":2.95},{"s":"a","x":9,"y":3.1},{"s":"a","x":9.5,"y":3.15},{"s":"a","x":10,"y":2.95},{"s":"a","x":10.5,"y":2.65},{"s":"a","x":11,"y":2.7},{"s":"a","x":11.5,"y":2.8},{"s":"a","x":12,"y":2.75},{"s":"a","x":12.5,"y":2.6},{"s":"a","x":13,"y":2.45},{"s":"a","x":13.5,"y":2.5},{"s":"a","x":14,"y":2.65},{"s":"a","x":14.5,"y":2.85},{"s":"a","x":14.9,"y":3.1},{"s":"a","x":15.3,"y":2.8},{"s":"a","x":15.7,"y":2.55},{"s":"a","x":16,"y":2.45},{"s":"a","x":16.5,"y":2.4},{"s":"a","x":17,"y":2.35},{"s":"a","x":17.5,"y":2.3},{"s":"a","x":18,"y":2.3},{"s":"a","x":18.5,"y":2.25},{"s":"a","x":19,"y":2.2},{"s":"a","x":19.5,"y":2.2},{"s":"a","x":20,"y":2.2},{"s":"a","x":20.5,"y":2.2},{"s":"a","x":21,"y":2.2},{"s":"a","x":21.5,"y":2.15},{"s":"a","x":22,"y":2.2},{"s":"a","x":22.5,"y":2.1},{"s":"a","x":23,"y":2.05},{"s":"a","x":23.5,"y":2.15},{"s":"a","x":24,"y":2.4},{"s":"a","x":24.3,"y":2.8},{"s":"a","x":24.7,"y":3.3},{"s":"a","x":25,"y":3.85},{"s":"a","x":25.3,"y":4.5},{"s":"a","x":25.7,"y":5.2},{"s":"a","x":26,"y":4.75},{"s":"a","x":26.3,"y":4.2},{"s":"a","x":26.6,"y":3.7},{"s":"a","x":27,"y":3.1},{"s":"a","x":27.5,"y":2.95},{"s":"a","x":28,"y":3.0},{"s":"a","x":28.5,"y":3.05},{"s":"a","x":29,"y":3.15},{"s":"a","x":29.5,"y":3.4},{"s":"a","x":30,"y":3.85},{"s":"a","x":30.5,"y":4.2},{"s":"a","x":31,"y":4.4},{"s":"a","x":31.5,"y":4.5},{"s":"a","x":32,"y":4.75},{"s":"a","x":32.4,"y":5.0},{"s":"a","x":32.8,"y":4.6},{"s":"a","x":33.2,"y":4.3},{"s":"a","x":33.6,"y":4.5},{"s":"a","x":34,"y":4.75},{"s":"a","x":34.3,"y":5.5},{"s":"a","x":34.6,"y":6.3},{"s":"a","x":34.9,"y":6.8},{"s":"a","x":35.2,"y":6.0},{"s":"a","x":35.4,"y":5.0},{"s":"a","x":35.6,"y":4.0},{"s":"a","x":35.9,"y":2.9},{"s":"a","x":36.2,"y":2.6},{"s":"a","x":36.5,"y":2.45},{"s":"a","x":37,"y":2.3},{"s":"a","x":37.5,"y":2.2},{"s":"a","x":38,"y":2.15},{"s":"a","x":38.5,"y":2.3},{"s":"a","x":39,"y":3.0},{"s":"a","x":39.3,"y":3.4},{"s":"a","x":39.7,"y":3.1},{"s":"a","x":40,"y":2.8},{"s":"a","x":40.5,"y":2.5},{"s":"a","x":41,"y":2.3},{"s":"a","x":41.5,"y":2.2},{"s":"a","x":42,"y":2.15},{"s":"a","x":42.5,"y":2.15},{"s":"a","x":43,"y":2.2},{"s":"a","x":43.5,"y":2.4},{"s":"a","x":44,"y":2.65},{"s":"a","x":44.5,"y":2.95},{"s":"a","x":45,"y":2.9},{"s":"a","x":45.5,"y":2.85},{"s":"a","x":46,"y":2.95},{"s":"a","x":46.5,"y":3.05},{"s":"a","x":47,"y":3.1},{"s":"a","x":47.5,"y":2.95},{"s":"a","x":48,"y":2.9},{"s":"a","x":48.5,"y":2.95},{"s":"a","x":49,"y":3.0},{"s":"a","x":49.5,"y":2.9},{"s":"a","x":50,"y":2.85},{"s":"a","x":50.5,"y":2.75},{"s":"a","x":51,"y":2.7},{"s":"a","x":51.5,"y":2.6},{"s":"a","x":52,"y":2.55},{"s":"a","x":52.5,"y":2.7},{"s":"a","x":53,"y":2.85},{"s":"a","x":53.5,"y":2.65},{"s":"a","x":54,"y":2.6},{"s":"a","x":54.5,"y":2.7},{"s":"a","x":55,"y":2.8},{"s":"a","x":55.5,"y":2.6},{"s":"a","x":56,"y":2.55},{"s":"a","x":56.5,"y":2.8},{"s":"a","x":57,"y":3.0},{"s":"a","x":57.5,"y":3.3},{"s":"a","x":57.9,"y":3.8},{"s":"a","x":58.2,"y":4.45},{"s":"a","x":58.5,"y":5.2},{"s":"a","x":58.7,"y":5.35},{"s":"a","x":59,"y":4.5},{"s":"a","x":59.3,"y":3.7},{"s":"a","x":59.6,"y":3.0},{"s":"a","x":60,"y":2.4},
{"s":"b","x":0,"y":1.1},{"s":"b","x":0.3,"y":1.0},{"s":"b","x":0.7,"y":1.0},{"s":"b","x":1,"y":1.1},{"s":"b","x":1.5,"y":1.2},{"s":"b","x":2,"y":1.3},{"s":"b","x":2.5,"y":1.5},{"s":"b","x":3,"y":1.7},{"s":"b","x":3.3,"y":2.0},{"s":"b","x":3.7,"y":2.15},{"s":"b","x":4,"y":2.2},{"s":"b","x":4.4,"y":2.1},{"s":"b","x":4.8,"y":1.95},{"s":"b","x":5.2,"y":1.75},{"s":"b","x":5.6,"y":1.45},{"s":"b","x":6,"y":1.4},{"s":"b","x":6.5,"y":1.6},{"s":"b","x":7,"y":1.75},{"s":"b","x":7.4,"y":1.95},{"s":"b","x":7.8,"y":2.2},{"s":"b","x":8.1,"y":2.9},{"s":"b","x":8.4,"y":2.6},{"s":"b","x":8.8,"y":2.3},{"s":"b","x":9.2,"y":1.95},{"s":"b","x":9.6,"y":1.85},{"s":"b","x":10,"y":1.8},{"s":"b","x":10.5,"y":1.75},{"s":"b","x":11,"y":1.72},{"s":"b","x":11.5,"y":1.7},{"s":"b","x":12,"y":1.55},{"s":"b","x":12.4,"y":1.45},{"s":"b","x":12.8,"y":1.6},{"s":"b","x":13.2,"y":1.75},{"s":"b","x":13.6,"y":1.85},{"s":"b","x":14,"y":1.9},{"s":"b","x":14.5,"y":2.05},{"s":"b","x":15,"y":2.15},{"s":"b","x":15.5,"y":2.2},{"s":"b","x":16,"y":2.2},{"s":"b","x":16.4,"y":2.05},{"s":"b","x":16.8,"y":1.9},{"s":"b","x":17.2,"y":2.1},{"s":"b","x":17.6,"y":2.4},{"s":"b","x":18,"y":2.65},{"s":"b","x":18.5,"y":2.9},{"s":"b","x":19,"y":2.7},{"s":"b","x":19.5,"y":2.5},{"s":"b","x":20,"y":2.35},{"s":"b","x":20.5,"y":2.25},{"s":"b","x":21,"y":2.2},{"s":"b","x":21.5,"y":2.2},{"s":"b","x":22,"y":2.15},{"s":"b","x":22.5,"y":2.1},{"s":"b","x":23,"y":2.05},{"s":"b","x":23.5,"y":2.25},{"s":"b","x":23.9,"y":2.7},{"s":"b","x":24.2,"y":3.3},{"s":"b","x":24.5,"y":4.1},{"s":"b","x":24.8,"y":3.6},{"s":"b","x":25.1,"y":3.1},{"s":"b","x":25.5,"y":2.9},{"s":"b","x":26,"y":2.8},{"s":"b","x":26.5,"y":2.8},{"s":"b","x":27,"y":2.85},{"s":"b","x":27.5,"y":2.85},{"s":"b","x":28,"y":2.85},{"s":"b","x":28.5,"y":2.75},{"s":"b","x":29,"y":2.6},{"s":"b","x":29.5,"y":2.45},{"s":"b","x":30,"y":2.35},{"s":"b","x":30.5,"y":2.3},{"s":"b","x":31,"y":2.4},{"s":"b","x":31.5,"y":2.6},{"s":"b","x":32,"y":2.7},{"s":"b","x":32.5,"y":2.8},{"s":"b","x":33,"y":3.05},{"s":"b","x":33.4,"y":3.3},{"s":"b","x":33.7,"y":3.6},{"s":"b","x":34,"y":4.3},{"s":"b","x":34.3,"y":5.0},{"s":"b","x":34.6,"y":5.9},{"s":"b","x":34.9,"y":6.8},{"s":"b","x":35.1,"y":7.1},{"s":"b","x":35.3,"y":6.2},{"s":"b","x":35.5,"y":5.0},{"s":"b","x":35.7,"y":4.0},{"s":"b","x":36,"y":3.25},{"s":"b","x":36.5,"y":2.8},{"s":"b","x":37,"y":2.7},{"s":"b","x":37.5,"y":2.65},{"s":"b","x":38,"y":2.65},{"s":"b","x":38.5,"y":2.65},{"s":"b","x":39,"y":2.75},{"s":"b","x":39.5,"y":2.9},{"s":"b","x":40,"y":3.05},{"s":"b","x":40.5,"y":3.25},{"s":"b","x":41,"y":3.05},{"s":"b","x":41.5,"y":2.8},{"s":"b","x":42,"y":2.65},{"s":"b","x":42.5,"y":2.85},{"s":"b","x":43,"y":3.05},{"s":"b","x":43.5,"y":2.95},{"s":"b","x":44,"y":2.85},{"s":"b","x":44.5,"y":3.2},{"s":"b","x":45,"y":3.45},{"s":"b","x":45.4,"y":3.2},{"s":"b","x":45.8,"y":2.8},{"s":"b","x":46.3,"y":2.55},{"s":"b","x":46.8,"y":2.45},{"s":"b","x":47.3,"y":2.35},{"s":"b","x":47.8,"y":2.4},{"s":"b","x":48.3,"y":2.6},{"s":"b","x":48.8,"y":2.8},{"s":"b","x":49.3,"y":3.0},{"s":"b","x":49.8,"y":3.2},{"s":"b","x":50.3,"y":3.3},{"s":"b","x":50.8,"y":3.45},{"s":"b","x":51.2,"y":3.2},{"s":"b","x":51.7,"y":2.9},{"s":"b","x":52.1,"y":2.5},{"s":"b","x":52.6,"y":2.35},{"s":"b","x":53,"y":2.3},{"s":"b","x":53.5,"y":2.3},{"s":"b","x":54,"y":2.25},{"s":"b","x":54.5,"y":2.3},{"s":"b","x":55,"y":2.35},{"s":"b","x":55.5,"y":2.45},{"s":"b","x":56,"y":2.6},{"s":"b","x":56.5,"y":2.85},{"s":"b","x":57,"y":3.3},{"s":"b","x":57.4,"y":2.9},{"s":"b","x":57.8,"y":2.6},{"s":"b","x":58.3,"y":2.5},{"s":"b","x":58.8,"y":2.5},{"s":"b","x":59.3,"y":2.55},{"s":"b","x":59.7,"y":2.5},{"s":"b","x":60,"y":2.55},
{"s":"c","x":0,"y":3.2},{"s":"c","x":0.3,"y":3.7},{"s":"c","x":0.7,"y":4.1},{"s":"c","x":1,"y":4.3},{"s":"c","x":1.3,"y":4.5},{"s":"c","x":1.7,"y":4.35},{"s":"c","x":2,"y":4.3},{"s":"c","x":2.3,"y":4.4},{"s":"c","x":2.7,"y":4.0},{"s":"c","x":3,"y":3.55},{"s":"c","x":3.3,"y":2.95},{"s":"c","x":3.7,"y":2.3},{"s":"c","x":4,"y":2.45},{"s":"c","x":4.3,"y":2.65},{"s":"c","x":4.7,"y":2.9},{"s":"c","x":5,"y":3.1},{"s":"c","x":5.4,"y":3.2},{"s":"c","x":5.7,"y":3.25},{"s":"c","x":6,"y":2.95},{"s":"c","x":6.3,"y":3.1},{"s":"c","x":6.5,"y":3.4},{"s":"c","x":6.7,"y":3.9},{"s":"c","x":6.9,"y":4.5},{"s":"c","x":7.1,"y":5.1},{"s":"c","x":7.3,"y":4.6},{"s":"c","x":7.5,"y":3.7},{"s":"c","x":7.8,"y":3.1},{"s":"c","x":8.1,"y":2.8},{"s":"c","x":8.4,"y":2.6},{"s":"c","x":8.7,"y":2.4},{"s":"c","x":9,"y":2.2},{"s":"c","x":9.5,"y":2.15},{"s":"c","x":10,"y":2.1},{"s":"c","x":10.5,"y":2.05},{"s":"c","x":11,"y":2.1},{"s":"c","x":11.5,"y":2.15},{"s":"c","x":12,"y":2.2},{"s":"c","x":12.5,"y":2.3},{"s":"c","x":12.8,"y":2.6},{"s":"c","x":13,"y":3.2},{"s":"c","x":13.2,"y":3.9},{"s":"c","x":13.4,"y":4.6},{"s":"c","x":13.6,"y":5.4},{"s":"c","x":13.8,"y":6.1},{"s":"c","x":14.0,"y":5.7},{"s":"c","x":14.2,"y":5.2},{"s":"c","x":14.5,"y":4.95},{"s":"c","x":14.8,"y":4.9},{"s":"c","x":15.1,"y":4.9},{"s":"c","x":15.4,"y":4.6},{"s":"c","x":15.7,"y":4.35},{"s":"c","x":16,"y":4.15},{"s":"c","x":16.3,"y":4.3},{"s":"c","x":16.6,"y":4.5},{"s":"c","x":16.9,"y":5.05},{"s":"c","x":17.2,"y":5.6},{"s":"c","x":17.5,"y":6.1},{"s":"c","x":17.8,"y":6.45},{"s":"c","x":18.0,"y":6.5},{"s":"c","x":18.3,"y":6.1},{"s":"c","x":18.6,"y":5.4},{"s":"c","x":18.9,"y":4.5},{"s":"c","x":19.2,"y":3.7},{"s":"c","x":19.5,"y":3.4},{"s":"c","x":20,"y":3.25},{"s":"c","x":20.5,"y":3.15},{"s":"c","x":21,"y":3.1},{"s":"c","x":21.5,"y":3.05},{"s":"c","x":22,"y":3.0},{"s":"c","x":22.5,"y":2.95},{"s":"c","x":23,"y":2.9},{"s":"c","x":23.5,"y":2.75},{"s":"c","x":23.8,"y":2.65},{"s":"c","x":24.2,"y":2.9},{"s":"c","x":24.6,"y":3.1},{"s":"c","x":25,"y":3.4},{"s":"c","x":25.3,"y":4.1},{"s":"c","x":25.6,"y":5.0},{"s":"c","x":25.8,"y":5.6},{"s":"c","x":26.0,"y":6.0},{"s":"c","x":26.3,"y":6.6},{"s":"c","x":26.6,"y":6.9},{"s":"c","x":27.0,"y":7.1},{"s":"c","x":27.3,"y":7.3},{"s":"c","x":27.6,"y":7.4},{"s":"c","x":27.9,"y":7.45},{"s":"c","x":28.2,"y":7.0},{"s":"c","x":28.5,"y":6.3},{"s":"c","x":28.8,"y":5.5},{"s":"c","x":29.1,"y":4.9},{"s":"c","x":29.4,"y":4.6},{"s":"c","x":29.7,"y":4.2},{"s":"c","x":30,"y":4.1},{"s":"c","x":30.4,"y":4.05},{"s":"c","x":30.7,"y":4.0},{"s":"c","x":31,"y":4.3},{"s":"c","x":31.3,"y":4.5},{"s":"c","x":31.6,"y":4.8},{"s":"c","x":31.9,"y":5.3},{"s":"c","x":32.2,"y":6.0},{"s":"c","x":32.5,"y":7.4},{"s":"c","x":32.7,"y":8.2},{"s":"c","x":32.9,"y":7.9},{"s":"c","x":33.1,"y":7.4},{"s":"c","x":33.4,"y":6.2},{"s":"c","x":33.7,"y":5.2},{"s":"c","x":34,"y":3.0},{"s":"c","x":34.4,"y":2.6},{"s":"c","x":34.7,"y":2.5},{"s":"c","x":35,"y":2.45},{"s":"c","x":35.5,"y":2.45},{"s":"c","x":36,"y":2.55},{"s":"c","x":36.5,"y":2.65},{"s":"c","x":37,"y":2.5},{"s":"c","x":37.5,"y":2.45},{"s":"c","x":38,"y":2.4},{"s":"c","x":38.5,"y":2.5},{"s":"c","x":39,"y":2.65},{"s":"c","x":39.5,"y":2.8},{"s":"c","x":40,"y":3.2},{"s":"c","x":40.4,"y":3.6},{"s":"c","x":40.8,"y":4.3},{"s":"c","x":41.1,"y":4.0},{"s":"c","x":41.4,"y":3.85},{"s":"c","x":41.7,"y":3.6},{"s":"c","x":42,"y":3.4},{"s":"c","x":42.4,"y":3.7},{"s":"c","x":42.7,"y":4.0},{"s":"c","x":43.0,"y":5.4},{"s":"c","x":43.2,"y":4.8},{"s":"c","x":43.4,"y":4.0},{"s":"c","x":43.7,"y":3.3},{"s":"c","x":44,"y":3.2},{"s":"c","x":44.4,"y":3.1},{"s":"c","x":44.9,"y":2.8},{"s":"c","x":45.3,"y":2.2},{"s":"c","x":45.7,"y":1.95},{"s":"c","x":46.1,"y":1.75},{"s":"c","x":46.5,"y":1.65},{"s":"c","x":47,"y":1.55},{"s":"c","x":47.5,"y":1.5},{"s":"c","x":48,"y":1.45},{"s":"c","x":48.5,"y":1.4},{"s":"c","x":49,"y":1.35},{"s":"c","x":49.5,"y":1.3},{"s":"c","x":50,"y":1.25},{"s":"c","x":50.5,"y":1.25},{"s":"c","x":51,"y":1.35},{"s":"c","x":51.5,"y":1.6},{"s":"c","x":51.8,"y":2.05},{"s":"c","x":52.1,"y":3.0},{"s":"c","x":52.4,"y":3.7},{"s":"c","x":52.7,"y":3.2},{"s":"c","x":53,"y":2.6},{"s":"c","x":53.5,"y":2.2},{"s":"c","x":54,"y":1.8},{"s":"c","x":54.5,"y":1.5},{"s":"c","x":55,"y":1.6},{"s":"c","x":55.5,"y":1.85},{"s":"c","x":56,"y":2.05},{"s":"c","x":56.5,"y":1.95},{"s":"c","x":57,"y":1.7},{"s":"c","x":57.5,"y":1.5},{"s":"c","x":58,"y":1.2},{"s":"c","x":58.5,"y":1.05},{"s":"c","x":59,"y":0.95},{"s":"c","x":59.5,"y":0.9},{"s":"c","x":60,"y":1.05}
]
},
"concat": [
{"title": {"text": "Control", "offset": 0}, "width": 302, "height": 201, "data": {"name": "control"}, "mark": {"type": "point", "filled": true, "size": 16},
 "encoding": {
  "x": {"field": "x", "type": "quantitative", "scale": {"domain": [0, 60], "nice": false, "zero": false}, "axis": {"title": "Length (µm)", "values": [0,2,4,6,8,10,12,14,16,18,20,22,24,26,28,30,32,34,36,38,40,42,44,46,48,50,52,54,56,58,60], "labelExpr": "datum.value % 20 === 0 ? datum.label : ''", "labelPadding": 4, "titlePadding": 3}},
  "y": {"field": "y", "type": "quantitative", "scale": {"domain": [0, 9], "nice": false}, "axis": {"title": "Fluorescence (A.U.)", "values": [0,1,2,3,4,5,6,7,8,9]}},
  "color": {"field": "s", "type": "nominal", "scale": {"domain": ["a","b","c"], "range": ["#0d33f2", "#22e21c", "#f24ef0"]}, "legend": null}
 }},
{"title": {"text": "EIPA", "offset": 0}, "width": 302, "height": 201, "data": {"name": "eipa"}, "mark": {"type": "point", "filled": true, "size": 16},
 "encoding": {
  "x": {"field": "x", "type": "quantitative", "scale": {"domain": [0, 60], "nice": false, "zero": false}, "axis": {"title": "Length (µm)", "values": [0,2,4,6,8,10,12,14,16,18,20,22,24,26,28,30,32,34,36,38,40,42,44,46,48,50,52,54,56,58,60], "labelExpr": "datum.value % 20 === 0 ? datum.label : ''", "labelPadding": 4, "titlePadding": 3}},
  "y": {"field": "y", "type": "quantitative", "scale": {"domain": [0, 9], "nice": false}, "axis": {"title": "Fluorescence (A.U.)", "values": [0,1,2,3,4,5,6,7,8,9]}},
  "color": {"field": "s", "type": "nominal", "scale": {"domain": ["a","b","c"], "range": ["#22e8f8", "#22e21c", "#f24ef0"]}, "legend": null}
 }},
{"title": {"text": "EIPA+Rspo1", "offset": -4}, "width": 302, "height": 201, "data": {"name": "rspo"}, "mark": {"type": "point", "filled": true, "size": 16},
 "encoding": {
  "x": {"field": "x", "type": "quantitative", "scale": {"domain": [0, 60], "nice": false, "zero": false}, "axis": {"title": "Length (µm)", "values": [0,2,4,6,8,10,12,14,16,18,20,22,24,26,28,30,32,34,36,38,40,42,44,46,48,50,52,54,56,58,60], "labelExpr": "datum.value % 20 === 0 ? datum.label : ''", "labelPadding": 4, "titlePadding": 3}},
  "y": {"field": "y", "type": "quantitative", "scale": {"domain": [0, 9], "nice": false}, "axis": {"title": "Fluorescence (A.U.)", "values": [0,1,2,3,4,5,6,7,8,9]}},
  "color": {"field": "s", "type": "nominal", "scale": {"domain": ["a","b","c"], "range": ["#22e8f8", "#22e21c", "#f24ef0"]}, "legend": null}
 }},
{"title": {"text": "EIPA+Wnt3a", "offset": -4}, "width": 302, "height": 201, "data": {"name": "wnt"}, "mark": {"type": "point", "filled": true, "size": 16},
 "encoding": {
  "x": {"field": "x", "type": "quantitative", "scale": {"domain": [0, 60], "nice": false, "zero": false}, "axis": {"title": "Length (µm)", "values": [0,2,4,6,8,10,12,14,16,18,20,22,24,26,28,30,32,34,36,38,40,42,44,46,48,50,52,54,56,58,60], "labelExpr": "datum.value % 20 === 0 ? datum.label : ''", "labelPadding": 4, "titlePadding": 3}},
  "y": {"field": "y", "type": "quantitative", "scale": {"domain": [0, 9], "nice": false}, "axis": {"title": "Fluorescence (A.U.)", "values": [0,1,2,3,4,5,6,7,8,9]}},
  "color": {"field": "s", "type": "nominal", "scale": {"domain": ["a","b","c"], "range": ["#22e8f8", "#22e21c", "#f24ef0"]}, "legend": null}
 }}
]
}
